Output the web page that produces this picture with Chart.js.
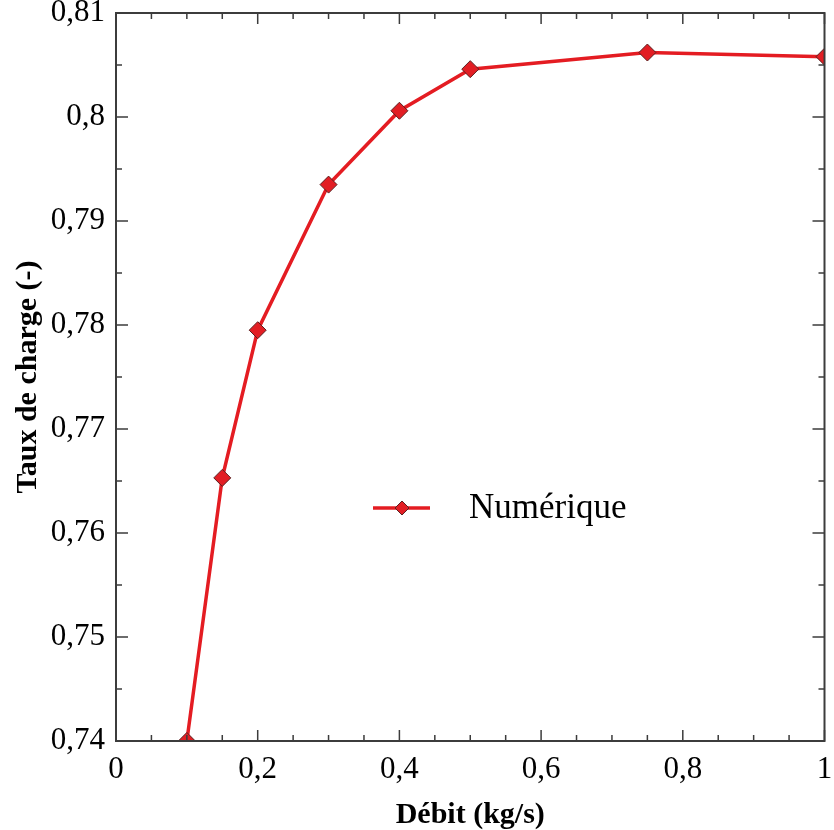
<!DOCTYPE html>
<html>
<head>
<meta charset="utf-8">
<script src="https://cdn.jsdelivr.net/npm/chart.js@4"></script>
<style>
  html, body { margin: 0; padding: 0; background: #fff; }
  #wrap { width: 834px; height: 830px; }
</style>
</head>
<body>
<div id="wrap"><canvas id="c" width="834" height="830"></canvas></div>
<script>
// data
const debit = [0.1, 0.15, 0.2, 0.3, 0.4, 0.5, 0.75, 1.0];
const tauxCharge = [0.7400, 0.7653, 0.7795, 0.7935, 0.8006, 0.8046, 0.8062, 0.8058];
const seriesLabel = 'Numérique';
const xTitle = 'Débit (kg/s)';
const yTitle = 'Taux de charge (-)';

const RED = 'rgb(228,28,34)';
const SERIF = '"Liberation Serif", "Times New Roman", serif';

function fmt(v, dec){
  const r = Math.round(v * Math.pow(10, dec)) / Math.pow(10, dec);
  return String(r).replace('.', ',');
}
function isMajorX(v){ return Math.round(v * 100) % 20 === 0; }
function isMajorY(v){ return Math.round(v * 1000) % 10 === 0; }

// frame + inward ticks (major and minor) on all four sides
const framePlugin = {
  id: 'frame',
  afterDatasetsDraw(chart){
    const { ctx, chartArea: a, scales: { x, y } } = chart;
    ctx.save();
    ctx.strokeStyle = '#3c3c3c';
    ctx.lineWidth = 1.5;
    ctx.beginPath();
    x.ticks.forEach(t => {
      const px = x.getPixelForValue(t.value);
      const len = isMajorX(t.value) ? 11 : 6;
      ctx.moveTo(px, a.bottom); ctx.lineTo(px, a.bottom - len);
      ctx.moveTo(px, a.top); ctx.lineTo(px, a.top + len);
    });
    y.ticks.forEach(t => {
      const py = y.getPixelForValue(t.value);
      const len = isMajorY(t.value) ? 12 : 6;
      ctx.moveTo(a.left, py); ctx.lineTo(a.left + len, py);
      ctx.moveTo(a.right, py); ctx.lineTo(a.right - len, py);
    });
    ctx.stroke();
    ctx.lineWidth = 2;
    ctx.strokeRect(a.left, a.top, a.right - a.left, a.bottom - a.top);
    ctx.restore();
  }
};

// legend inside the plot, in the middle
const legendPlugin = {
  id: 'innerLegend',
  afterDraw(chart){
    const { ctx } = chart;
    const ds = chart.data.datasets[0];
    const cx = 402, cy = 508;
    ctx.save();
    ctx.strokeStyle = ds.borderColor;
    ctx.lineWidth = 3.5;
    ctx.beginPath(); ctx.moveTo(373, cy); ctx.lineTo(430, cy); ctx.stroke();
    ctx.fillStyle = ds.pointBackgroundColor;
    ctx.strokeStyle = ds.pointBorderColor;
    ctx.lineWidth = 1;
    const r = 7;
    ctx.beginPath();
    ctx.moveTo(cx, cy - r); ctx.lineTo(cx + r, cy); ctx.lineTo(cx, cy + r); ctx.lineTo(cx - r, cy); ctx.closePath();
    ctx.fill(); ctx.stroke();
    ctx.fillStyle = '#000';
    ctx.font = '35px ' + SERIF;
    ctx.textBaseline = 'middle';
    ctx.fillText(ds.label, 469, cy + 1);
    ctx.restore();
  }
};

new Chart(document.getElementById('c'), {
  type: 'scatter',
  data: {
    datasets: [{
      label: seriesLabel,
      data: debit.map((d, i) => ({ x: d, y: tauxCharge[i] })),
      showLine: true,
      borderColor: RED,
      borderWidth: 3.5,
      pointStyle: 'rectRot',
      pointRadius: 8.5,
      pointBackgroundColor: 'rgb(226,30,36)',
      pointBorderColor: '#5a2020',
      pointBorderWidth: 1,
      tension: 0,
      clip: 0
    }]
  },
  options: {
    responsive: false,
    animation: false,
    devicePixelRatio: 1,
    layout: { padding: { top: 13, right: 6, left: 0, bottom: 0 } },
    plugins: { legend: { display: false }, tooltip: { enabled: false } },
    scales: {
      x: {
        type: 'linear', min: 0, max: 1,
        grid: { display: false, drawTicks: false },
        border: { display: false },
        ticks: {
          stepSize: 0.05, autoSkip: false, maxRotation: 0, padding: 10,
          color: '#000', font: { family: SERIF, size: 31 },
          callback: v => isMajorX(v) ? fmt(v, 2) : ''
        },
        title: { display: true, text: xTitle, color: '#000', font: { family: SERIF, size: 30, weight: 'bold' }, padding: { top: 0, bottom: -3 } },
        afterFit: s => { s.height = 89; s.paddingLeft = 0; s.paddingRight = 0; }
      },
      y: {
        type: 'linear', min: 0.74, max: 0.81,
        grid: { display: false, drawTicks: false },
        border: { display: false },
        ticks: {
          stepSize: 0.005, autoSkip: false, padding: 11,
          color: '#000', font: { family: SERIF, size: 31 },
          callback: v => isMajorY(v) ? fmt(v, 3) : ''
        },
        title: { display: true, text: yTitle, color: '#000', font: { family: SERIF, size: 30, weight: 'bold' }, padding: { top: 10, bottom: 0 } },
        afterFit: s => { s.width = 116; s.paddingTop = 0; s.paddingBottom = 0; }
      }
    }
  },
  plugins: [framePlugin, legendPlugin]
});
</script>
</body>
</html>
